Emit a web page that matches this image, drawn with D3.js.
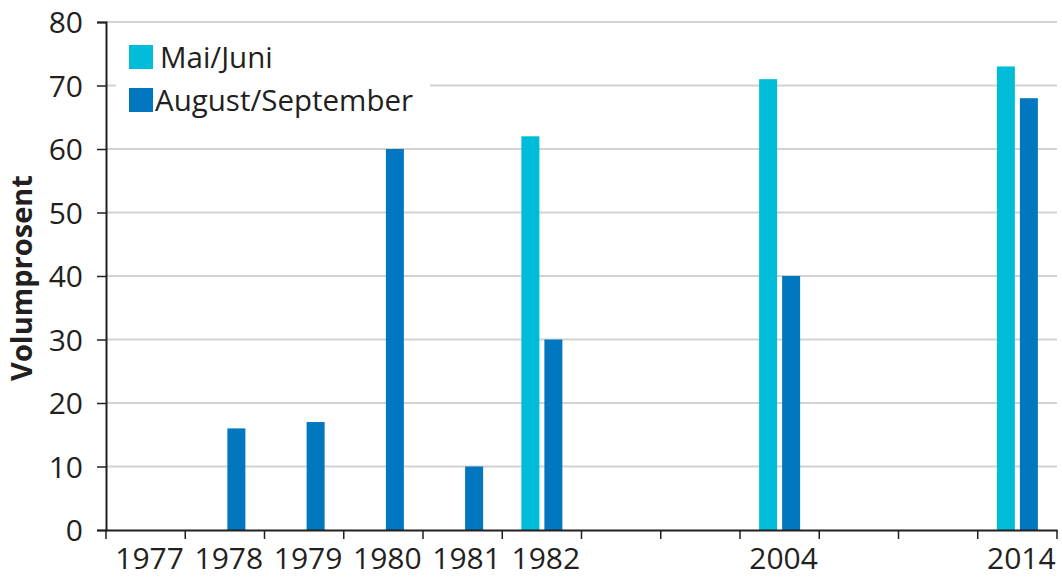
<!DOCTYPE html>
<html>
<head>
<meta charset="utf-8">
<script src="https://cdn.jsdelivr.net/npm/d3@7"></script>
<style>
  body { margin: 0; background: #fff; }
  svg text { font-family: "Open Sans", "Noto Sans", sans-serif; fill: #231f20; }
</style>
</head>
<body>
<svg></svg>
<script>
        // chart data
        const categories = ["1977", "1978", "1979", "1980", "1981", "1982", "", "", "2004", "", "", "2014"];
        const seriesNames = ["Mai/Juni", "August/September"];
        const maiJuni = [null, null, null, null, null, 62, null, null, 71, null, null, 73];
        const augSep = [null, 16, 17, 60, 10, 30, null, null, 40, null, null, 68];
        const yTicks = [0, 10, 20, 30, 40, 50, 60, 70, 80];
        const colors = ["#00bcd8", "#0077bf"];

        const width = 1062, height = 577;
        const margin = { left: 106, right: 5, top: 22, bottom: 47 };

        const svg = d3.select('svg')
            .attr('width', width)
            .attr('height', height);

        const x = d3.scaleBand()
            .domain(d3.range(categories.length))
            .range([margin.left, width - margin.right])
            .padding(0);

        const y = d3.scaleLinear()
            .domain([0, 80])
            .range([height - margin.bottom, margin.top]);

        // gridlines
        svg.append('g')
            .selectAll('line')
            .data(yTicks.filter(d => d > 0))
            .enter().append('line')
            .attr('x1', margin.left)
            .attr('x2', width - margin.right)
            .attr('y1', d => y(d))
            .attr('y2', d => y(d))
            .style('stroke', '#d2d2d2')
            .style('stroke-width', 2);

        // bars
        const barW = 18, gap = 5;
        const series = [maiJuni, augSep];
        series.forEach((vals, s) => {
            svg.append('g')
                .selectAll('rect')
                .data(vals.map((v, i) => ({ i, v })).filter(d => d.v != null))
                .enter().append('rect')
                .attr('x', d => x(d.i) + x.bandwidth() / 2 + (s === 0 ? -(barW + gap / 2) : gap / 2))
                .attr('y', d => y(d.v))
                .attr('width', barW)
                .attr('height', d => y(0) - y(d.v))
                .style('fill', colors[s]);
        });

        // y axis
        const yAxis = svg.append('g')
            .attr('transform', `translate(${margin.left},0)`)
            .call(d3.axisLeft(y).tickValues(yTicks).tickSize(9).tickPadding(14));
        yAxis.select('.domain').style('stroke', '#231f20').style('stroke-width', 2);
        yAxis.selectAll('.tick line').style('stroke', '#231f20').style('stroke-width', 1.5);
        yAxis.selectAll('text').style('font-size', '30px').style('fill', '#231f20').attr('dy', '0.36em');

        // x axis
        const xAxis = svg.append('g')
            .attr('transform', `translate(0,${y(0)})`)
            .call(d3.axisBottom(x).tickFormat(i => categories[i]).tickSize(0).tickPadding(18));
        xAxis.select('.domain').style('stroke', '#231f20').style('stroke-width', 2);
        xAxis.selectAll('text').style('font-size', '30px').style('fill', '#231f20').attr('dx', 4);
        // boundary ticks between categories
        xAxis.append('g')
            .selectAll('line')
            .data(d3.range(categories.length + 1))
            .enter().append('line')
            .attr('x1', i => margin.left + i * x.step())
            .attr('x2', i => margin.left + i * x.step())
            .attr('y1', 0)
            .attr('y2', 9)
            .style('stroke', '#231f20')
            .style('stroke-width', 1.5);

        // y label
        svg.append('text')
            .attr('transform', `translate(32,${(margin.top + y(0)) / 2 + 2}) rotate(-90)`)
            .attr('text-anchor', 'middle')
            .style('font-size', '29px')
            .style('font-weight', 'bold')
            .text('Volumprosent');

        // legend
        const legend = svg.append('g');
        legend.append('rect')
            .attr('x', 116).attr('y', 34)
            .attr('width', 314).attr('height', 86)
            .style('fill', '#fff');
        seriesNames.forEach((name, i) => {
            const ly = 45 + i * 43;
            legend.append('rect')
                .attr('x', 129).attr('y', ly)
                .attr('width', 24).attr('height', 24)
                .style('fill', colors[i]);
            legend.append('text')
                .attr('x', i === 0 ? 160 : 155)
                .attr('y', ly + 23)
                .style('font-size', '29.5px')
                .text(name);
        });
</script>
</body>
</html>
